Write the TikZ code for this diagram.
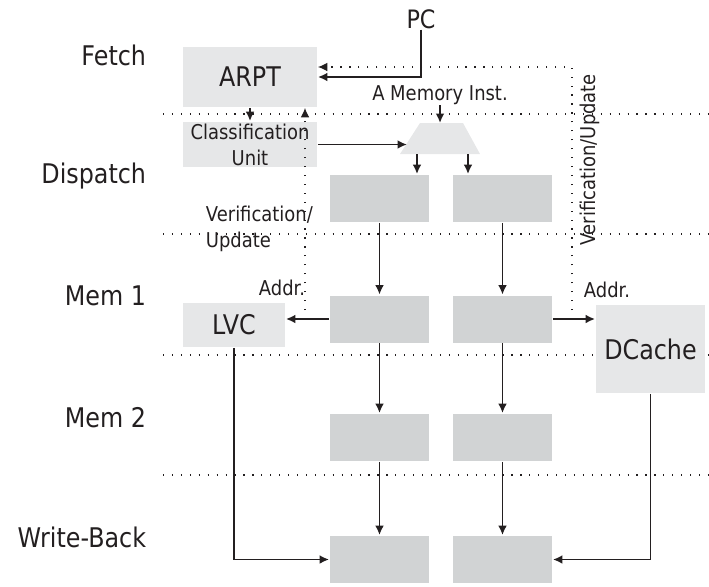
\documentclass[tikz,border=0pt]{standalone}
\usepackage{fontspec}
\setmainfont{DejaVu Sans}[FakeStretch=0.88]
\usetikzlibrary{arrows.meta}
\definecolor{boxlight}{HTML}{E6E7E8}
\definecolor{boxdark}{HTML}{D1D3D4}
\definecolor{ink}{HTML}{231F20}
\begin{document}
\begin{tikzpicture}[x=0.75pt, y=-0.75pt, line width=1.4pt, color=ink,
    every node/.style={font=\fontsize{20.3}{22}\selectfont, inner sep=0pt},
    small/.style={font=\fontsize{15.3}{19.5}\selectfont},
    unit/.style={fill=boxlight, minimum width=100.5pt, minimum height=33.75pt},
    stage/.style={fill=boxdark, minimum width=74.25pt, minimum height=35.25pt},
    arr/.style={-{Latex[length=7pt,width=6.5pt]}},
    sep/.style={dash pattern=on 0.9pt off 5.8pt, line width=0.9pt}]
    \useasboundingbox (0,0) rectangle (709,586);

    % Stage borders
    \foreach \yy in {114,234,355,475}
        \draw[sep] (163,\yy) -- (709,\yy);

    % Stage names
    \foreach \lbl/\yy [count=\i] in {Fetch/65, Dispatch/183, Mem 1/305, Mem 2/427, Write-Back/547}
        \node[anchor=base east] (st\i) at (147,\yy) {\lbl};

    % Pipeline latches
    \foreach \yy [count=\i] in {198.5,319,437.5,559.5} {
        \node[stage] (l\i) at (379.5,\yy) {};
        \node[stage] (r\i) at (502.5,\yy) {};
    }
    \foreach \i/\j in {1/2,2/3,3/4} {
        \draw[arr] (l\i.south) -- (l\j.north);
        \draw[arr] (r\i.south) -- (r\j.north);
    }

    % Fetch side
    \node[unit, minimum height=45pt] (arpt) at (250,77) {ARPT};
    \node[unit, small, align=center] (cls) at (250,144.5) {Classification\\Unit};
    \node[font=\fontsize{19}{21}\selectfont] (pc) at (421,19) {PC};
    \node[small] (mi) at (440,95) {A Memory Inst.};
    \draw[arr] (pc.south) |- (arpt.east);
    \draw[arr] (arpt.south) -- (cls.north);

    % Steering mux
    \fill[boxlight] (420,123) -- (463,123) -- (480,154) -- (400,154) -- cycle;
    \coordinate (muxtop) at (440,123);
    \coordinate (muxin) at (407,144.5);
    \coordinate (muxl) at (417,154);
    \coordinate (muxr) at (468,154);
    \draw[arr] (mi.south) -- (muxtop);
    \draw[arr] (cls.east) -- (muxin);
    \draw[arr] (muxl) -- (muxl |- l1.north);
    \draw[arr] (muxr) -- (muxr |- r1.north);

    % Caches
    \node[unit, minimum width=76.5pt, minimum height=33pt] (lvc) at (234,325) {LVC};
    \node[unit, minimum width=81.75pt, minimum height=66pt] (dc) at (650.5,349) {DCache};
    \draw[arr] (l2.west) -- (lvc.east |- l2.west);
    \draw[arr] (r2.east) -- (dc.west |- r2.east);
    \draw[arr] (lvc.south) |- (l4.west);
    \draw[arr] (dc.south) |- (r4.east);

    % Verification / update paths
    \coordinate (vl) at (305,319);
    \coordinate (vr) at (572,319);
    \draw[sep, arr] (vl) -- (vl |- arpt.south);
    \draw[sep, arr] (vr) |- ([yshift=7.5pt]arpt.east);
    \node[small, anchor=west, align=left] (vtl) at (205,229) {Verification/\\Update};
    \node[small, rotate=90] (vtr) at (590,160) {Verification/Update};
    \node[small, anchor=east] (adl) at (306,288) {Addr.};
    \node[small, anchor=west] (adr) at (583,290) {Addr.};
\end{tikzpicture}
\end{document}
